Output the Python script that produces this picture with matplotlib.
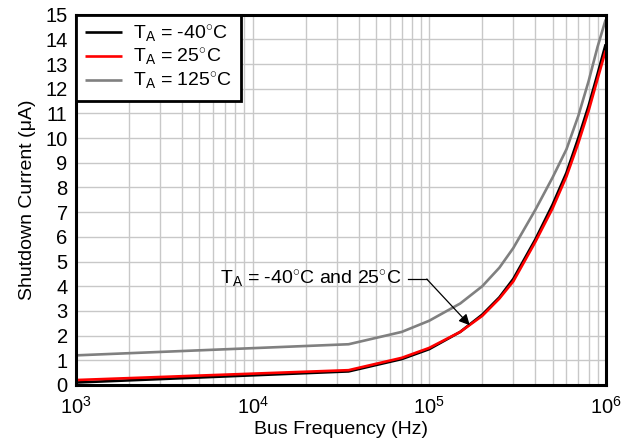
import matplotlib

matplotlib.use("Agg")
import matplotlib.pyplot as plt
from matplotlib.ticker import LogLocator, MultipleLocator, NullFormatter


# values
FREQ_HZ = [1e3, 3.5e4, 7e4, 1e5, 1.5e5, 2e5, 2.5e5, 3e5, 4e5, 5e5, 6e5, 7e5, 8e5, 9e5, 1e6]
I_MINUS40 = [0.1, 0.55, 1.05, 1.45, 2.15, 2.85, 3.55, 4.3, 5.9, 7.3, 8.6, 10.0, 11.3, 12.6, 13.8]
I_25 = [0.2, 0.6, 1.1, 1.5, 2.15, 2.8, 3.5, 4.2, 5.8, 7.15, 8.45, 9.8, 11.1, 12.4, 13.55]
I_125 = [1.2, 1.65, 2.15, 2.6, 3.3, 4.0, 4.75, 5.55, 7.1, 8.4, 9.55, 10.9, 12.3, 13.7, 14.8]

LABELS = [
    r"T$_\mathrm{A}$ = -40$^{\circ}$C",
    r"T$_\mathrm{A}$ = 25$^{\circ}$C",
    r"T$_\mathrm{A}$ = 125$^{\circ}$C",
]
COLORS = ["#000000", "#FF0000", "#808080"]

NOTE_TEXT = r"T$_\mathrm{A}$ = -40$^{\circ}$C and 25$^{\circ}$C"
NOTE_TEXT_POS = (7.0e4, 4.05)
NOTE_LINE_START = (7.6e4, 4.29)
NOTE_BEND = (9.7e4, 4.29)
NOTE_TIP = (1.7e5, 2.42)

plt.rcParams["font.family"] = ["Liberation Sans", "DejaVu Sans"]
plt.rcParams["mathtext.fontset"] = "custom"
plt.rcParams["mathtext.rm"] = "Liberation Sans"
plt.rcParams["mathtext.it"] = "Liberation Sans:italic"
plt.rcParams["mathtext.bf"] = "Liberation Sans:bold"

fig = plt.figure(figsize=(6.29, 4.42), dpi=100)
ax = fig.add_axes([0.1208, 0.129, 0.8421, 0.8378])

for values, label, color in zip([I_MINUS40, I_25, I_125], LABELS, COLORS):
    ax.plot(FREQ_HZ, values, color=color, lw=1.9, label=label, solid_capstyle="butt")

ax.set_xscale("log")
ax.set_xlim(1e3, 1e6)
ax.set_ylim(0, 15)
ax.yaxis.set_major_locator(MultipleLocator(1))
ax.xaxis.set_major_locator(LogLocator(base=10))
ax.xaxis.set_minor_locator(LogLocator(base=10, subs=range(2, 10)))
ax.xaxis.set_minor_formatter(NullFormatter())

ax.grid(True, which="major", color="#c8c8c8", lw=1.0)
ax.grid(True, which="minor", axis="x", color="#c8c8c8", lw=1.0)
ax.set_axisbelow(True)

ax.tick_params(which="both", length=0, labelsize=14.5)
ax.tick_params(axis="y", pad=6)
ax.tick_params(axis="x", pad=8)

for spine in ax.spines.values():
    spine.set_linewidth(2.2)
    spine.set_color("black")

ax.set_xlabel("Bus Frequency (Hz)", fontsize=14, labelpad=2)
ax.set_ylabel("Shutdown Current (\u03bcA)", fontsize=14, labelpad=7)

leg = ax.legend(
    loc="upper left",
    borderaxespad=0,
    fontsize=14,
    fancybox=False,
    framealpha=1,
    edgecolor="black",
    handlelength=1.9,
    handletextpad=0.6,
    labelspacing=0.12,
    borderpad=0.45,
)
leg.get_frame().set_linewidth(2.0)

ax.text(NOTE_TEXT_POS[0], NOTE_TEXT_POS[1], NOTE_TEXT, ha="right", va="baseline", fontsize=14)
ax.plot([NOTE_LINE_START[0], NOTE_BEND[0]], [NOTE_LINE_START[1], NOTE_BEND[1]], color="black", lw=0.9)
ax.annotate(
    "",
    xy=NOTE_TIP,
    xytext=NOTE_BEND,
    arrowprops=dict(arrowstyle="-|>", color="black", lw=0.9, mutation_scale=16, shrinkA=0, shrinkB=0),
)

fig.savefig("out.png", dpi=100)
